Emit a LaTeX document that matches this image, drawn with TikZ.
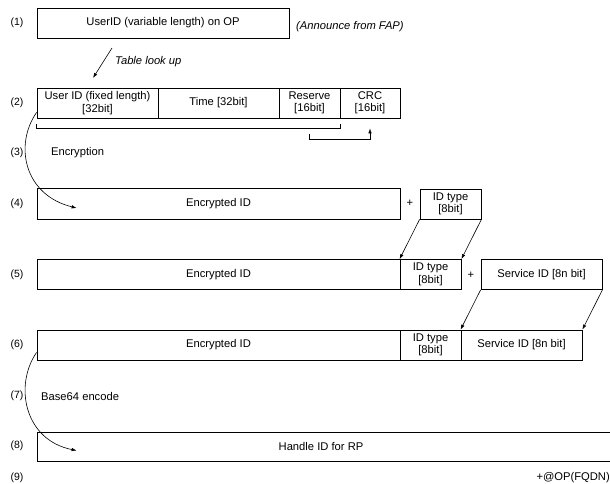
\documentclass[tikz,border=0pt]{standalone}
\usepackage{fontspec}
\setmainfont{Liberation Sans}
\usetikzlibrary{arrows.meta,calc}
\tikzset{
  box/.style={draw,line width=.8pt,inner sep=1pt,align=center,font=\fontsize{11.2}{12.5}\selectfont},
  txt/.style={inner sep=1pt,font=\fontsize{11.2}{12.5}\selectfont},
  num/.style={inner sep=1pt,font=\fontsize{10.5}{12}\selectfont},
  arr/.style={-{Latex[length=5pt,width=3.5pt]},line width=.6pt},
  brk/.style={line width=.6pt}
}
\begin{document}
\begin{tikzpicture}[x=1pt,y=-1pt]
  \useasboundingbox (0,0) rectangle (610,484);
  % step numbers
  \foreach \n/\y in {1/23,2/103,3/153,4/204,5/275,6/345,7/396,8/446,9/478}
    \node[num] (r\n) at (17,\y) {(\n)};

  % (1) user id on OP
  \node[box,minimum width=252,minimum height=30] (uvar) at (163,23) {UserID (variable length) on OP};
  \node[txt,anchor=west,font=\fontsize{11.2}{12.5}\selectfont\itshape] (fap) at (295,27) {(Announce from FAP)};
  \coordinate (lk1) at (112,48);
  \coordinate (lk2) at (93,78);
  \draw[arr] (lk1) -- (lk2);
  \node[txt,anchor=west,font=\fontsize{11.2}{12.5}\selectfont\itshape] (look) at (114,62) {Table look up};

  % (2) fixed length record
  \node[box,minimum width=121,minimum height=30] (uid) at (97.5,103) {User ID (fixed length)\\{}[32bit]};
  \node[box,minimum width=121,minimum height=30] (time) at (218.5,103) {Time [32bit]};
  \node[box,minimum width=61,minimum height=30] (res) at (309.5,103) {Reserve\\{}[16bit]};
  \node[box,minimum width=60,minimum height=30] (crc) at (370,103) {CRC\\{}[16bit]};
  \draw[brk] ([yshift=-6pt]uid.south west) -- ([yshift=-10pt]uid.south west)
    -- ([yshift=-10pt]res.south east) -- ([yshift=-6pt]res.south east);
  \draw[arr] ([yshift=-16pt]res.south) -- ([yshift=-21pt]res.south) -| ([yshift=-10pt]crc.south);

  % (3) encryption
  \node[txt,anchor=west] (enc) at (50,153) {Encryption};

  % (4)
  \node[box,minimum width=363,minimum height=31] (enc4) at (218.5,203.5) {Encrypted ID};
  \node[txt] (p4) at (410,203) {+};
  \node[box,minimum width=61,minimum height=30] (idt4) at (450.5,204) {ID type\\{}[8bit]};
  \draw[arr] ([yshift=6pt]uid.south west) .. controls (14,145) and (24,195) .. ([xshift=40pt,yshift=-4.5pt]enc4.west);

  % (5)
  \node[box,minimum width=363,minimum height=30] (enc5) at (218.5,274.5) {Encrypted ID};
  \node[box,minimum width=61,minimum height=30] (idt5) at (430.5,274.5) {ID type\\{}[8bit]};
  \node[txt] (p5) at (471,275) {+};
  \node[box,minimum width=121,minimum height=30] (svc5) at (541.5,274.5) {Service ID [8n bit]};
  \draw[arr] (idt4.south west) -- (idt5.north west);
  \draw[arr] (idt4.south east) -- (idt5.north east);

  % (6)
  \node[box,minimum width=363,minimum height=30] (enc6) at (218.5,345) {Encrypted ID};
  \node[box,minimum width=61,minimum height=30] (idt6) at (430.5,345) {ID type\\{}[8bit]};
  \node[box,minimum width=121,minimum height=30] (svc6) at (521.5,345) {Service ID [8n bit]};
  \draw[arr] (svc5.south west) -- (svc6.north west);
  \draw[arr] (svc5.south east) -- (svc6.north east);

  % (7) base64
  \node[txt,anchor=west] (b64) at (40,396) {Base64 encode};

  % (8) handle id
  \node[box,minimum width=600,minimum height=29] (hid) at (337,446.5) {};
  \node[txt] (hidtxt) at (321,446.5) {Handle ID for RP};
  \draw[arr] ([yshift=8pt]enc6.south west) .. controls (14,385) and (24,440) .. ([xshift=40pt,yshift=-4pt]hid.west);

  % (9)
  \node[txt,anchor=east] (fqdn) at (611,478) {+@OP(FQDN)};
\end{tikzpicture}
\end{document}
